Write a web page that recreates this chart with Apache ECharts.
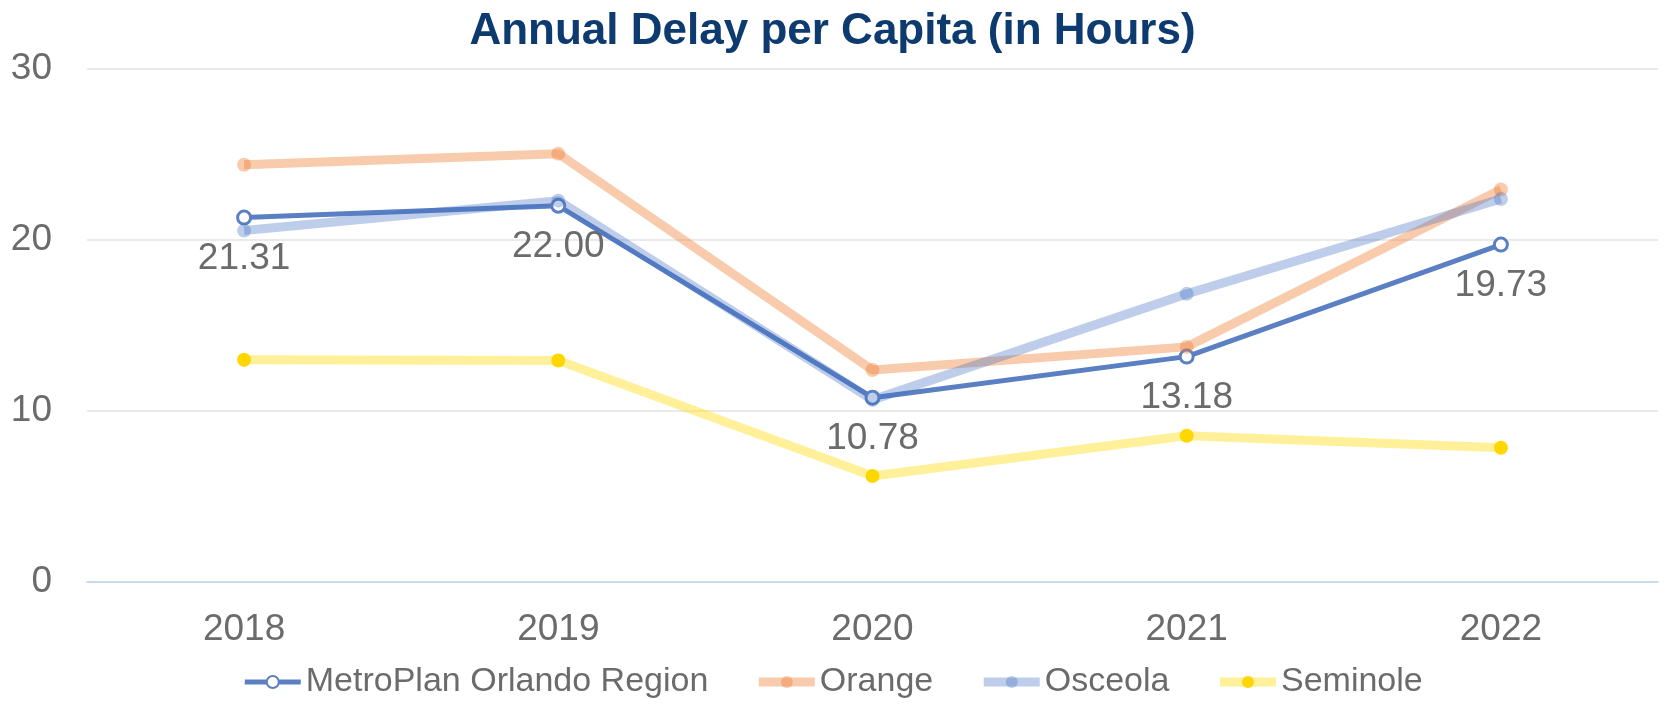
<!DOCTYPE html>
<html>
<head>
<meta charset="utf-8">
<title>Annual Delay per Capita</title>
<script src="https://cdn.jsdelivr.net/npm/echarts@6/dist/echarts.min.js"></script>
<style>
  html, body { margin: 0; padding: 0; background: #fff; }
  #chart { width: 1665px; height: 707px; }
</style>
</head>
<body>
<div id="chart"></div>
<script>
// values
const years = ['2018', '2019', '2020', '2021', '2022']
const metroPlan = [21.31, 22.0, 10.78, 13.18, 19.73]
const orange = [24.4, 25.05, 12.4, 13.75, 22.95]
const osceola = [20.55, 22.3, 10.65, 16.85, 22.4]
const seminole = [13.0, 12.95, 6.2, 8.55, 7.85]
const yTicks = [0, 10, 20, 30]

const font = 'Liberation Sans, Arial, sans-serif'
const grey = '#6b6b6b'

const chart = echarts.init(document.getElementById('chart'))

const fadedLine = (name, data, color, opacity, pointColor, pointOpacity) => ({
  name,
  type: 'line',
  data,
  symbol: 'circle',
  symbolSize: 14,
  showSymbol: true,
  lineStyle: { color, width: 9, opacity },
  itemStyle: { color: pointColor, opacity: pointOpacity },
  emphasis: { disabled: true },
})

const option = {
  animation: false,
  title: {
    text: 'Annual Delay per Capita (in Hours)',
    left: 'center',
    top: 5,
    textStyle: {
      fontFamily: 'Liberation Sans Narrow, Liberation Sans, Arial, sans-serif',
      fontSize: 44,
      fontWeight: 'bold',
      color: '#0d3a6f',
    },
  },
  grid: { left: 87, right: 7, top: 69, bottom: 125 },
  legend: {
    bottom: 3,
    left: 'center',
    itemGap: 46,
    itemWidth: 56,
    itemHeight: 15,
    textStyle: { fontFamily: font, fontSize: 34, color: grey },
    data: [
      { name: 'MetroPlan Orlando Region', lineStyle: { width: 5 } },
      { name: 'Orange', lineStyle: { width: 9 } },
      { name: 'Osceola', lineStyle: { width: 9 } },
      { name: 'Seminole', lineStyle: { width: 9 } },
    ],
  },
  xAxis: {
    type: 'category',
    data: years,
    boundaryGap: true,
    axisTick: { show: false },
    axisLine: { lineStyle: { color: '#bdd7ee', width: 1.5 } },
    axisLabel: { fontFamily: font, fontSize: 37, color: grey, margin: 29 },
  },
  yAxis: {
    type: 'value',
    min: yTicks[0],
    max: yTicks[yTicks.length - 1],
    interval: 10,
    axisLine: { show: false },
    axisTick: { show: false },
    splitLine: { lineStyle: { color: '#e3e3e3', width: 1.5 } },
    axisLabel: { fontFamily: font, fontSize: 37, color: grey, margin: 35 },
  },
  series: [
    {
      name: 'MetroPlan Orlando Region',
      type: 'line',
      data: metroPlan,
      symbol: 'circle',
      symbolSize: 13,
      lineStyle: { color: '#5a7fc3', width: 5 },
      itemStyle: { color: '#ffffff', borderColor: '#5a7fc3', borderWidth: 3 },
      label: {
        show: true,
        position: 'inside',
        offset: [0, 41],
        formatter: (p) => p.value.toFixed(2),
        fontFamily: font,
        fontSize: 37,
        color: grey,
      },
      emphasis: { disabled: true },
    },
    fadedLine('Orange', orange, '#ed7d31', 0.4, '#ed7d31', 0.4),
    fadedLine('Osceola', osceola, '#4472c4', 0.35, '#4472c4', 0.35),
    fadedLine('Seminole', seminole, '#ffd900', 0.4, '#ffd700', 1),
  ],
}

chart.setOption(option)
window.addEventListener('resize', () => chart.resize())
</script>
</body>
</html>
